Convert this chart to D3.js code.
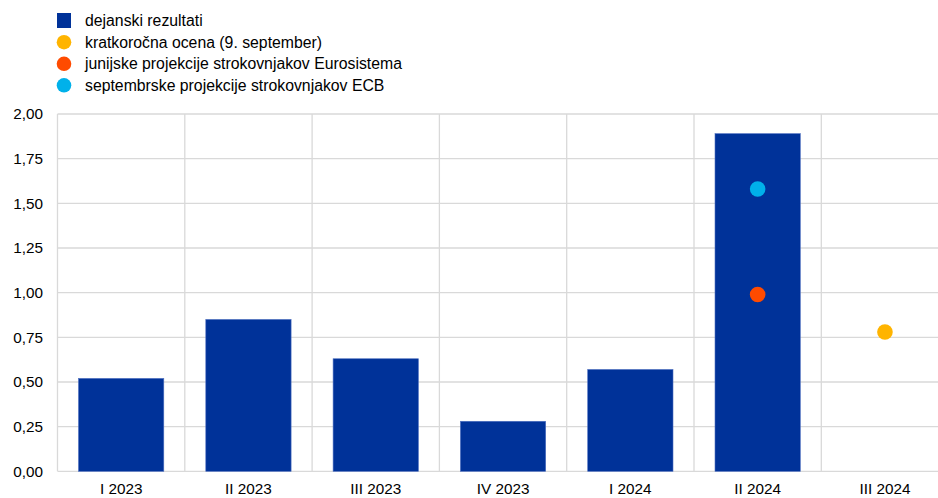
<!DOCTYPE html>
<html><head><meta charset="utf-8">
<script src="https://cdn.jsdelivr.net/npm/d3@7"></script>
<style>body{margin:0;background:#fff}svg{display:block;font-family:"Liberation Sans",Arial,sans-serif}</style>
</head><body><svg id="c" width="938" height="498"></svg>
<script>
const categories = ["I 2023","II 2023","III 2023","IV 2023","I 2024","II 2024","III 2024"];
const actual = [0.52, 0.85, 0.63, 0.28, 0.57, 1.89, null];
const nowcast = [null, null, null, null, null, null, 0.78];
const juneProj = [null, null, null, null, null, 0.99, null];
const septProj = [null, null, null, null, null, 1.58, null];
const yTicks = [0, 0.25, 0.5, 0.75, 1.0, 1.25, 1.5, 1.75, 2.0];
const seriesNames = ["dejanski rezultati","kratkoročna ocena (9. september)","junijske projekcije strokovnjakov Eurosistema","septembrske projekcije strokovnjakov ECB"];
const colors = ["#003299","#ffb400","#ff4b00","#00b1ea"];

const svg = d3.select("#c");
const m = {left:57.5, top:114, right:948.6, bottom:471.3};
const x = d3.scaleBand().domain(categories).range([m.left, m.right]).paddingInner(0).paddingOuter(0);
const y = d3.scaleLinear().domain([0,2]).range([m.bottom, m.top]);
const fmt = d => d3.format(".2f")(d).replace(".", ",");
const ff = "Liberation Sans, Arial, sans-serif";

svg.append("g").selectAll("line").data(yTicks).join("line")
  .attr("x1", m.left).attr("x2", m.right)
  .attr("y1", d=>y(d)).attr("y2", d=>y(d))
  .attr("stroke","#d9d9d9").attr("stroke-width",1.3);
svg.append("g").selectAll("line").data(categories).join("line")
  .attr("x1", d=>x(d)).attr("x2", d=>x(d))
  .attr("y1", m.top).attr("y2", m.bottom)
  .attr("stroke","#d9d9d9").attr("stroke-width",1.3);

const yAxis = d3.axisLeft(y).tickValues(yTicks).tickFormat(fmt).tickSize(0).tickPadding(14.5);
const ya = svg.append("g").attr("transform",`translate(${m.left},0)`).call(yAxis);
ya.select(".domain").remove();
ya.selectAll("text").attr("font-size",15.3).attr("fill","#000").attr("font-family",ff);

const xAxis = d3.axisBottom(x).tickSize(0).tickPadding(12);
const xa = svg.append("g").attr("transform",`translate(0,${m.bottom})`).call(xAxis);
xa.select(".domain").remove();
xa.selectAll("text").attr("font-size",15.3).attr("fill","#000").attr("font-family",ff);

const bw = x.bandwidth()*0.67;
svg.append("g").selectAll("rect").data(categories.map((c,i)=>({c,v:actual[i]})).filter(d=>d.v!=null)).join("rect")
  .attr("x", d=>x(d.c)+(x.bandwidth()-bw)/2)
  .attr("width", bw)
  .attr("y", d=>y(d.v))
  .attr("height", d=>y(0)-y(d.v))
  .attr("fill", colors[0]).attr("stroke","#4d6fc0").attr("stroke-width",0.6);

[[nowcast,colors[1]],[juneProj,colors[2]],[septProj,colors[3]]].forEach(([arr,col])=>{
  svg.append("g").selectAll("circle").data(categories.map((c,i)=>({c,v:arr[i]})).filter(d=>d.v!=null)).join("circle")
    .attr("cx", d=>x(d.c)+x.bandwidth()/2).attr("cy", d=>y(d.v)).attr("r",7.8).attr("fill",col);
});

const ly = [20.5, 42.2, 63.8, 85.3];
const lg = svg.append("g");
seriesNames.forEach((n,i)=>{
  if(i===0){
    lg.append("rect").attr("x",57).attr("y",ly[i]-7.5).attr("width",14).attr("height",15).attr("fill",colors[i]);
  } else {
    lg.append("circle").attr("cx",64).attr("cy",ly[i]).attr("r",7.3).attr("fill",colors[i]);
  }
  lg.append("text").attr("x",85).attr("y",ly[i]).attr("dy","0.35em").attr("font-size",15.8).attr("fill","#000").attr("font-family",ff).text(n);
});
</script></body></html>
